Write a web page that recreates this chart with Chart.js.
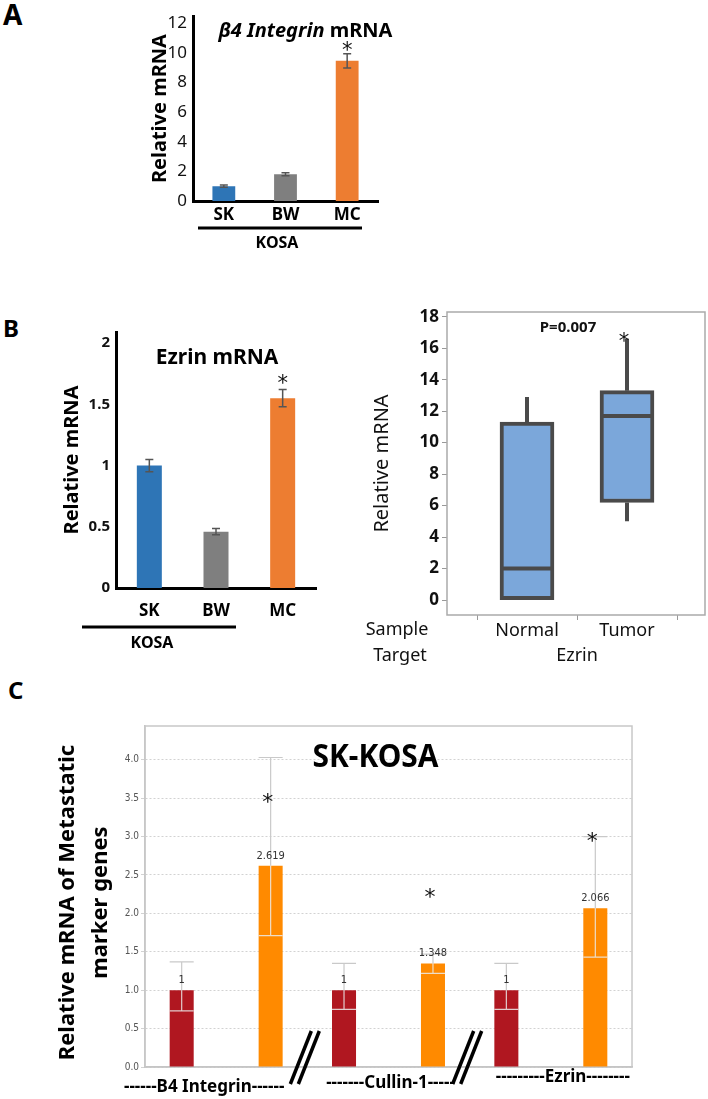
<!DOCTYPE html>
<html>
<head>
<meta charset="utf-8">
<script src="https://cdn.jsdelivr.net/npm/chart.js@4.4.1/dist/chart.umd.min.js"></script>
<style>
  html, body { margin: 0; padding: 0; background: #fff; }
  #page { position: relative; width: 708px; height: 1099px; overflow: hidden; font-family: 'Noto Sans', 'Open Sans', sans-serif; }
  .box { position: absolute; }
  .tag { position: absolute; font-weight: bold; line-height: 1; color: #000; }
</style>
</head>
<body>
<div id="page">
  <div class="tag" style="left:3px;top:0px;font-size:28px">A</div>
  <div class="tag" style="left:3px;top:316px;font-size:24px">B</div>
  <div class="tag" style="left:8px;top:678px;font-size:24px">C</div>
  <div class="box" style="left:0;top:0;width:420px;height:250px"><canvas id="chartA"></canvas></div>
  <div class="box" style="left:0;top:250px;width:360px;height:410px"><canvas id="chartB"></canvas></div>
  <div class="box" style="left:360px;top:250px;width:348px;height:430px"><canvas id="chartBox"></canvas></div>
  <div class="box" style="left:0;top:700px;width:708px;height:399px"><canvas id="chartC"></canvas></div>
</div>
<script>
// ---- data ----
const cellLines = ['SK', 'BW', 'MC'];
const kosaColors = ['#2E75B6', '#7F7F7F', '#ED7D31'];

// A: b4 integrin
const integrinVals = [1.0, 1.8, 9.45];
const integrinErr = [0.08, 0.1, 0.48];
const integrinTicks = [0, 2, 4, 6, 8, 10, 12];

// B left: ezrin
const ezrinVals = [1.0, 0.46, 1.55];
const ezrinErr = [0.05, 0.025, 0.07];
const ezrinTicks = [0, 0.5, 1, 1.5, 2];

// B right: box plot, ezrin in tissue
const boxCats = ['Normal', 'Tumor'];
const boxLow = [0, 5];
const boxQ1 = [0, 6.2];
const boxMedian = [2, 11.7];
const boxQ3 = [11.3, 13.3];
const boxHigh = [12.9, 16.6];
const boxTicks = [0, 2, 4, 6, 8, 10, 12, 14, 16, 18];

// C: SK-KOSA markers
const markerGroups = ['------B4 Integrin------', '-------Cullin-1-----', '---------Ezrin--------'];
const controlVals = [1, 1, 1];
const treatedVals = [2.619, 1.348, 2.066];
const controlUpper = [1.37, 1.35, 1.35];
const treatedUpper = [4.03, 1.47, 3.0];
const controlLower = [0.73, 0.75, 0.75];
const treatedLower = [1.71, 1.22, 1.43];
const treatedSigAt = [3.5, 2.27, 3.0];
const markerTicks = [0, 0.5, 1, 1.5, 2, 2.5, 3, 3.5, 4];

const FONT = "'Noto Sans', 'Open Sans', sans-serif";
const NARROW = "'Liberation Sans Narrow', 'DejaVu Sans Condensed', 'Liberation Sans', sans-serif";
Chart.defaults.font.family = FONT;
Chart.defaults.animation = false;

function drawStar(ctx, x, y, size) {
  ctx.save();
  ctx.fillStyle = '#111';
  ctx.font = `${size}px 'DejaVu Sans', sans-serif`;
  ctx.textAlign = 'center';
  ctx.textBaseline = 'alphabetic';
  const m = ctx.measureText('*');
  ctx.fillText('*', x, y + (m.actualBoundingBoxAscent - m.actualBoundingBoxDescent) / 2);
  ctx.restore();
}

function errorBars(errs, stars) {
  return {
    id: 'errorBars',
    afterDatasetsDraw(chart) {
      const ctx = chart.ctx;
      const y = chart.scales.y;
      const vals = chart.data.datasets[0].data;
      ctx.save();
      ctx.strokeStyle = '#555';
      ctx.lineWidth = 1.5;
      chart.getDatasetMeta(0).data.forEach((bar, i) => {
        const top = y.getPixelForValue(vals[i] + errs[i]);
        const bot = y.getPixelForValue(vals[i] - errs[i]);
        ctx.beginPath();
        ctx.moveTo(bar.x, top); ctx.lineTo(bar.x, bot);
        ctx.moveTo(bar.x - 4, top); ctx.lineTo(bar.x + 4, top);
        ctx.moveTo(bar.x - 4, bot); ctx.lineTo(bar.x + 4, bot);
        ctx.stroke();
        if (stars[i]) drawStar(ctx, bar.x, top - stars[i], 21);
      });
      ctx.restore();
    }
  };
}

function kosaGroup(lineDy, x0, x1, textDy, textDx) {
  return {
    id: 'kosaGroup',
    afterDraw(chart) {
      const { ctx, chartArea: a } = chart;
      ctx.save();
      ctx.strokeStyle = '#000';
      ctx.lineWidth = 3;
      ctx.beginPath();
      ctx.moveTo(a.left + x0, a.bottom + lineDy);
      ctx.lineTo(a.right + x1, a.bottom + lineDy);
      ctx.stroke();
      ctx.fillStyle = '#000';
      ctx.font = `bold 16px ${FONT}`;
      ctx.textAlign = 'center';
      ctx.textBaseline = 'middle';
      ctx.fillText('KOSA', (a.left + x0 + a.right + x1) / 2 + textDx, a.bottom + textDy);
      ctx.restore();
    }
  };
}

// ---- A ----
new Chart(document.getElementById('chartA'), {
  type: 'bar',
  data: {
    labels: cellLines,
    datasets: [{ data: integrinVals, backgroundColor: kosaColors, barPercentage: 0.37, categoryPercentage: 1 }]
  },
  options: {
    responsive: true,
    maintainAspectRatio: false,
    layout: { padding: { left: 148, top: 12, right: 42, bottom: 0 } },
    plugins: { legend: { display: false }, tooltip: { enabled: false } },
    scales: {
      x: {
        grid: { display: false, drawTicks: false },
        border: { display: true, color: '#000', width: 3 },
        ticks: { color: '#000', font: { size: 17, weight: 'bold' }, padding: 4 },
        afterFit: (s) => { s.height = 49; }
      },
      y: {
        min: 0, max: 12.46,
        afterBuildTicks: (s) => { s.ticks = integrinTicks.map((v) => ({ value: v })); },
        grid: { display: false, drawTicks: false },
        border: { display: true, color: '#000', width: 3 },
        ticks: { color: '#111', font: { size: 17 }, padding: 6, callback: (v) => String(v) },
        title: { display: true, text: 'Relative mRNA', color: '#000', font: { size: 20, weight: 'bold' }, padding: 0 },
        afterFit: (s) => { s.width = 45; }
      }
    }
  },
  plugins: [
    errorBars(integrinErr, [0, 0, 8]),
    kosaGroup(27, 5, -16, 42, -3),
    {
      id: 'titleA',
      afterDraw(chart) {
        const { ctx, chartArea: a } = chart;
        ctx.save();
        ctx.fillStyle = '#000';
        ctx.textBaseline = 'middle';
        const p1 = 'β4 Integrin ', p2 = 'mRNA';
        ctx.font = `italic bold 20px ${FONT}`;
        const w1 = ctx.measureText(p1).width;
        ctx.font = `bold 20px ${FONT}`;
        const w2 = ctx.measureText(p2).width;
        const x = (a.left + a.right) / 2 + 20 - (w1 + w2) / 2;
        ctx.font = `italic bold 20px ${FONT}`;
        ctx.fillText(p1, x, a.top + 15);
        ctx.font = `bold 20px ${FONT}`;
        ctx.fillText(p2, x + w1, a.top + 15);
        ctx.restore();
      }
    }
  ]
});

// ---- B left ----
new Chart(document.getElementById('chartB'), {
  type: 'bar',
  data: {
    labels: cellLines,
    datasets: [{ data: ezrinVals, backgroundColor: kosaColors, barPercentage: 0.375, categoryPercentage: 1 }]
  },
  options: {
    responsive: true,
    maintainAspectRatio: false,
    layout: { padding: { left: 60, top: 82, right: 44, bottom: 0 } },
    plugins: { legend: { display: false }, tooltip: { enabled: false } },
    scales: {
      x: {
        grid: { display: false, drawTicks: false },
        border: { display: true, color: '#000', width: 3 },
        ticks: { color: '#000', font: { size: 17, weight: 'bold' }, padding: 13 },
        afterFit: (s) => { s.height = 72; }
      },
      y: {
        min: 0, max: 2.09,
        afterBuildTicks: (s) => { s.ticks = ezrinTicks.map((v) => ({ value: v })); },
        grid: { display: false, drawTicks: false },
        border: { display: true, color: '#000', width: 3 },
        ticks: { color: '#111', font: { size: 15, weight: 'bold' }, padding: 6, callback: (v) => String(v) },
        title: { display: true, text: 'Relative mRNA', color: '#000', font: { size: 20, weight: 'bold' }, padding: 0 },
        afterFit: (s) => { s.width = 56; }
      }
    }
  },
  plugins: [
    errorBars(ezrinErr, [0, 0, 11]),
    kosaGroup(39, -34, -80, 55, -7),
    {
      id: 'titleB',
      afterDraw(chart) {
        const { ctx, chartArea: a } = chart;
        ctx.save();
        ctx.fillStyle = '#000';
        ctx.font = `bold 21px ${FONT}`;
        ctx.textAlign = 'center';
        ctx.textBaseline = 'middle';
        ctx.fillText('Ezrin mRNA', (a.left + a.right) / 2 + 1, a.top + 26);
        ctx.restore();
      }
    }
  ]
});

// ---- B right: box plot ----
new Chart(document.getElementById('chartBox'), {
  type: 'bar',
  data: {
    datasets: [{
      data: boxCats.map((c, i) => ({ x: i, y: [boxQ1[i], boxQ3[i]] })),
      backgroundColor: '#7BA7DA',
      borderColor: '#4A4A4A',
      borderWidth: 4,
      borderSkipped: false,
      barThickness: 54
    }]
  },
  options: {
    responsive: true,
    maintainAspectRatio: false,
    layout: { padding: { left: 10, top: 62, right: 3, bottom: 0 } },
    plugins: { legend: { display: false }, tooltip: { enabled: false } },
    scales: {
      x: {
        type: 'linear',
        offset: false,
        min: -0.8, max: 1.78,
        afterBuildTicks: (s) => { s.ticks = boxCats.map((c, i) => ({ value: i })); },
        grid: { drawOnChartArea: false, drawTicks: true, tickLength: 5, color: '#999' },
        border: { display: false },
        ticks: { color: '#111', font: { size: 18 }, padding: 0, callback: (v) => boxCats[v] },
        afterFit: (s) => { s.height = 65; }
      },
      y: {
        min: -0.95, max: 18.3,
        afterBuildTicks: (s) => { s.ticks = boxTicks.map((v) => ({ value: v })); },
        grid: { drawOnChartArea: false, drawTicks: true, tickLength: 5, color: '#999' },
        border: { display: false },
        ticks: { color: '#111', font: { size: 17, weight: 'bold' }, padding: 3 },
        title: { display: true, text: 'Relative mRNA', color: '#111', font: { size: 20 }, padding: 0 },
        afterFit: (s) => { s.width = 77; }
      }
    }
  },
  plugins: [{
    id: 'boxParts',
    beforeDatasetsDraw(chart) {
      const { ctx, chartArea: a } = chart;
      ctx.save();
      ctx.strokeStyle = '#aaa';
      ctx.lineWidth = 1.5;
      ctx.strokeRect(a.left, a.top, a.right - a.left, a.bottom - a.top);
      ctx.restore();
    },
    afterDatasetsDraw(chart) {
      const { ctx, chartArea: a } = chart;
      const y = chart.scales.y;
      ctx.save();
      ctx.strokeStyle = '#4A4A4A';
      ctx.lineWidth = 4;
      chart.getDatasetMeta(0).data.forEach((bar, i) => {
        const half = bar.width / 2;
        ctx.beginPath();
        ctx.moveTo(bar.x - half, y.getPixelForValue(boxMedian[i]));
        ctx.lineTo(bar.x + half, y.getPixelForValue(boxMedian[i]));
        if (boxHigh[i] > boxQ3[i]) {
          ctx.moveTo(bar.x, y.getPixelForValue(boxQ3[i]));
          ctx.lineTo(bar.x, y.getPixelForValue(boxHigh[i]));
        }
        if (boxLow[i] < boxQ1[i]) {
          ctx.moveTo(bar.x, y.getPixelForValue(boxQ1[i]));
          ctx.lineTo(bar.x, y.getPixelForValue(boxLow[i]));
        }
        ctx.stroke();
      });
      const bars = chart.getDatasetMeta(0).data;
      drawStar(ctx, bars[1].x - 3, y.getPixelForValue(boxHigh[1]) - 2, 21);
      ctx.fillStyle = '#111';
      ctx.font = `bold 15px ${FONT}`;
      ctx.textAlign = 'center';
      ctx.textBaseline = 'middle';
      ctx.fillText('P=0.007', (bars[0].x + bars[1].x) / 2 - 9, a.top + 16);
      ctx.font = `18px ${FONT}`;
      ctx.fillText('Sample', a.left - 50, a.bottom + 15);
      ctx.fillText('Target', a.left - 47, a.bottom + 41);
      ctx.fillText('Ezrin', (bars[0].x + bars[1].x) / 2, a.bottom + 41);
      ctx.restore();
    }
  }]
});

// ---- C ----
new Chart(document.getElementById('chartC'), {
  type: 'bar',
  data: {
    labels: markerGroups,
    datasets: [
      { label: 'control', data: controlVals, backgroundColor: '#B01720', barPercentage: 0.27, categoryPercentage: 1.096 },
      { label: 'treated', data: treatedVals, backgroundColor: '#FF8A00', barPercentage: 0.27, categoryPercentage: 1.096 }
    ]
  },
  options: {
    responsive: true,
    maintainAspectRatio: false,
    layout: { padding: { left: 51, top: 26, right: 76, bottom: 0 } },
    plugins: { legend: { display: false }, tooltip: { enabled: false } },
    scales: {
      x: {
        grid: { display: false },
        border: { display: true, color: '#bbb', width: 1.5 },
        ticks: { display: false },
        afterFit: (s) => { s.height = 32; }
      },
      y: {
        min: 0, max: 4.44,
        afterBuildTicks: (s) => { s.ticks = markerTicks.map((v) => ({ value: v })); },
        grid: { color: '#d2d2d2', lineWidth: 1, drawTicks: true, tickLength: 4 },
        border: { display: true, color: '#c4c4c4', width: 1.5, dash: [2, 2] },
        ticks: { color: '#555', font: { family: NARROW, size: 10 }, padding: 2, callback: (v) => Number(v).toFixed(1) },
        afterFit: (s) => { s.width = 94; }
      }
    }
  },
  plugins: [{
    id: 'markerParts',
    beforeDatasetsDraw(chart) {
      const { ctx, chartArea: a } = chart;
      ctx.save();
      ctx.strokeStyle = '#c8c8c8';
      ctx.lineWidth = 1.5;
      ctx.strokeRect(a.left, a.top, a.right - a.left, a.bottom - a.top);
      ctx.restore();
    },
    afterDatasetsDraw(chart) {
      const { ctx, chartArea: a } = chart;
      const y = chart.scales.y;
      const x = chart.scales.x;
      const uppers = [controlUpper, treatedUpper];
      const lowers = [controlLower, treatedLower];
      ctx.save();
      [0, 1].forEach((d) => {
        const vals = chart.data.datasets[d].data;
        chart.getDatasetMeta(d).data.forEach((bar, i) => {
          const half = bar.width / 2;
          const top = y.getPixelForValue(uppers[d][i]);
          const low = y.getPixelForValue(lowers[d][i]);
          const vTop = y.getPixelForValue(vals[i]);
          // stem + cap
          ctx.strokeStyle = '#c9c9c9';
          ctx.lineWidth = 1.2;
          ctx.beginPath();
          ctx.moveTo(bar.x, vTop); ctx.lineTo(bar.x, top);
          ctx.moveTo(bar.x - half, top); ctx.lineTo(bar.x + half, top);
          ctx.stroke();
          ctx.strokeStyle = 'rgba(235,235,235,0.85)';
          ctx.beginPath();
          ctx.moveTo(bar.x, vTop); ctx.lineTo(bar.x, low);
          ctx.moveTo(bar.x - half, low); ctx.lineTo(bar.x + half, low);
          ctx.stroke();
          // value label
          ctx.fillStyle = '#333';
          ctx.font = `11px ${NARROW}`;
          ctx.textAlign = 'center';
          ctx.textBaseline = 'middle';
          ctx.fillText(String(vals[i]), bar.x, vTop - 10);
          if (d === 1) drawStar(ctx, bar.x - 3, y.getPixelForValue(treatedSigAt[i]), 22);
        });
      });
      // title
      ctx.fillStyle = '#000';
      ctx.font = `bold 32px ${FONT}`;
      ctx.textAlign = 'center';
      ctx.textBaseline = 'middle';
      ctx.fillText('SK-KOSA', (a.left + a.right) / 2 - 13, a.top + 32, 126);
      // y axis title, two lines
      const cy = (a.top + a.bottom) / 2 + 6;
      ctx.font = `bold 22px ${FONT}`;
      [['Relative mRNA of Metastatic', 68], ['marker genes', 101]].forEach(([t, tx]) => {
        ctx.save();
        ctx.translate(tx, cy);
        ctx.rotate(-Math.PI / 2);
        ctx.fillText(t, 0, 0);
        ctx.restore();
      });
      // group labels
      const dx = [-22, 2, 12];
      const dy = [20, 16, 10];
      const widths = [166, 142, 145];
      ctx.font = `bold 17px ${FONT}`;
      markerGroups.forEach((g, i) => {
        ctx.fillText(g, x.getPixelForTick(i) + dx[i], a.bottom + dy[i], widths[i]);
      });
      // axis break marks between groups
      ctx.strokeStyle = '#000';
      ctx.lineWidth = 3.5;
      for (let i = 0; i < markerGroups.length - 1; i++) {
        const mx = (x.getPixelForTick(i) + x.getPixelForTick(i + 1)) / 2 - 2;
        [-4, 4].forEach((k) => {
          ctx.beginPath();
          ctx.moveTo(mx + k - 11, a.bottom + 17);
          ctx.lineTo(mx + k + 10, a.bottom - 36);
          ctx.stroke();
        });
      }
      ctx.restore();
    }
  }]
});
</script>
</body>
</html>
